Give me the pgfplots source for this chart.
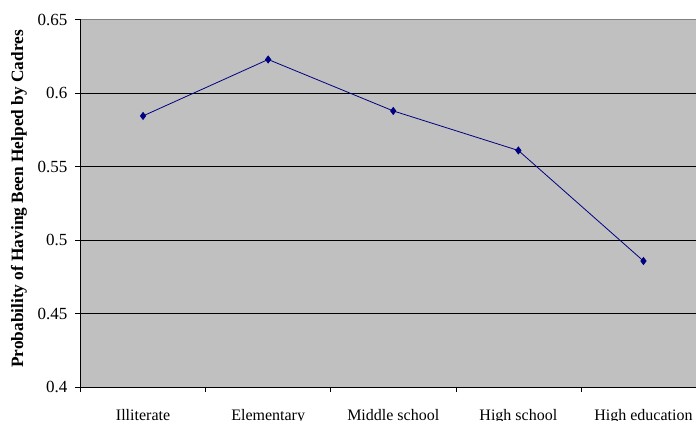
\documentclass[border=0pt]{standalone}
\usepackage{pgfplots}
\pgfplotsset{compat=1.18}
\usepackage{fontspec}
\setmainfont{Liberation Serif}
\definecolor{plotgray}{HTML}{C0C0C0}
\definecolor{navyline}{HTML}{000080}
\begin{document}
\begin{tikzpicture}
\useasboundingbox (0,0) rectangle (696bp,421bp);
\clip (0,0) rectangle (696bp,421bp);
\begin{axis}[
  at={(80.5bp,34bp)}, anchor=south west,
  scale only axis, width=615.5bp, height=367.5bp,
  xmin=-0.5, xmax=4.42, ymin=0.4, ymax=0.65,
  axis background/.style={fill=plotgray},
  axis lines*=left, axis line style={black, line width=0.8pt, -},
  xtick={0,1,2,3,4},
  xticklabels={Illiterate,Elementary,Middle school,High school,High education},
  minor xtick={-0.5,0.5,1.5,2.5,3.5},
  major x tick style={draw=none},
  minor tick length=5bp, major tick length=5bp,
  tick align=outside, tick pos=left,
  tick style={black, line width=0.6pt},
  ytick={0.4,0.45,0.5,0.55,0.6,0.65},
  ymajorgrids, grid style={black, line width=0.7pt},
  /pgf/number format/assume math mode=true,
  yticklabel style={font=\fontsize{17bp}{19bp}\selectfont, anchor=east, inner sep=0pt, xshift=-8bp},
  xticklabel style={font=\fontsize{16bp}{18bp}\selectfont, anchor=base, yshift=-28.5bp},
  ylabel={Probability of Having Been Helped by Cadres},
  ylabel style={at={(axis description cs:-0.1000,0.5116)}, anchor=center, font=\bfseries\fontsize{17.3bp}{19bp}\selectfont},
  clip=false,
]
\draw[gray, line width=0.8pt] (rel axis cs:0,1) -- (rel axis cs:1,1);
\addplot[navyline, line width=0.8pt, mark=diamond*, mark size=3.5bp, mark options={fill=navyline}]
  coordinates {(0,0.5844) (1,0.6228) (2,0.5878) (3,0.5609) (4,0.4857)};
\end{axis}
\end{tikzpicture}
\end{document}
